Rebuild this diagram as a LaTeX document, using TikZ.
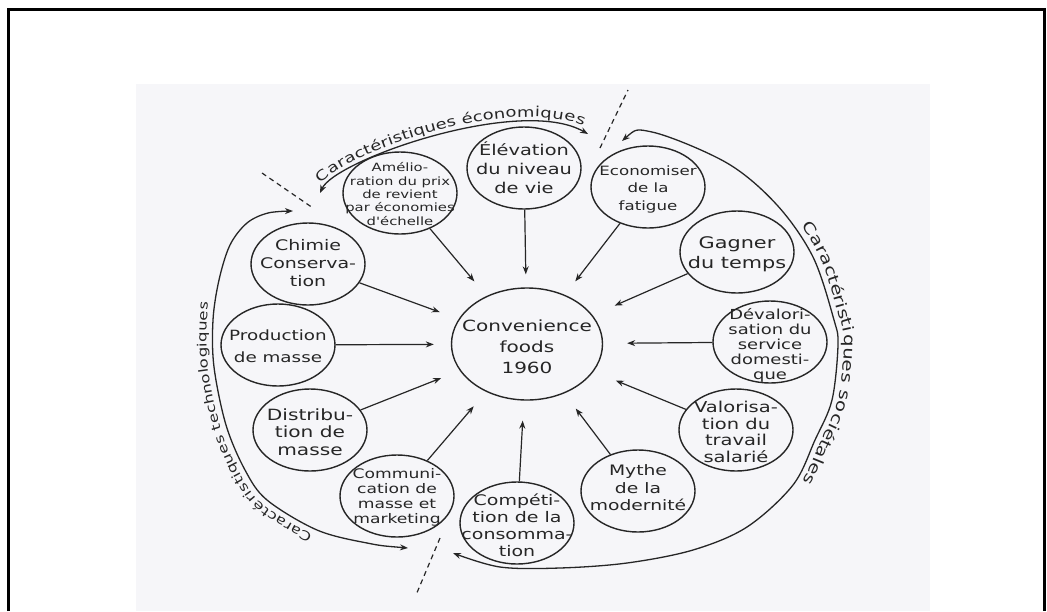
\documentclass[tikz,border=0pt]{standalone}
\usepackage{fontspec}
\newfontfamily\hand[FakeStretch=1.3]{DejaVu Sans}
\usetikzlibrary{shapes.geometric,arrows.meta,decorations.text}
\definecolor{ink}{HTML}{262626}
\definecolor{scan}{HTML}{F6F6F9}
\begin{document}
\begin{tikzpicture}[x=1pt,y=-1pt,
  bub/.style={draw=ink, line width=1.4pt, ellipse, minimum width=114pt, minimum height=82pt, inner sep=0pt},
  txt/.style={align=center, inner sep=0pt, text=ink},
  arr/.style={draw=ink, line width=1.2pt, -{Stealth[length=8pt,width=6pt]}, shorten >=19pt},
  side/.style={draw=ink, line width=1.3pt, {Stealth[length=8pt,width=6pt]}-{Stealth[length=8pt,width=6pt]}},
  cut/.style={draw=ink, line width=1.2pt, dash pattern=on 5pt off 4pt},
  fr/.style={draw=black, line width=3pt}]
\useasboundingbox (0,0) rectangle (1047,611);
% frame and scan background
\fill[scan] (136,84) rectangle (930,611);
\draw[fr] (8,611) -- (8,9) -- (1044,9) -- (1044,611);

% ellipses
\node[bub, minimum width=151pt, minimum height=112pt] (center) at (527,344) {};
\node[bub] (amel)   at (400,193) {};
\node[bub] (elev)   at (524,168) {};
\node[bub] (econ)   at (648,187) {};
\node[bub] (gagn)   at (737,252) {};
\node[bub] (deval)  at (770,342) {};
\node[bub] (valor)  at (736,430) {};
\node[bub] (mythe)  at (638,491) {};
\node[bub] (compet) at (517,523) {};
\node[bub] (commu)  at (397,496) {};
\node[bub] (distr)  at (310,430) {};
\node[bub] (prod)   at (278,345) {};
\node[bub] (chimie) at (308,264) {};

% texts
\node[txt, font=\hand\fontsize{15.4}{21}\selectfont] (center-t) at (527,347) {Convenience\\foods\\1960};
\node[txt, font=\hand\fontsize{11.4}{13.3}\selectfont] (amel-t) at (400,194) {Amélio-\\ration du prix\\de revient\\par économies\\d'échelle};
\node[txt, font=\hand\fontsize{14.9}{19}\selectfont] (elev-t) at (524,168) {Élévation\\du niveau\\de vie};
\node[txt, font=\hand\fontsize{12.8}{17.5}\selectfont] (econ-t) at (648,189) {Economiser\\de la\\fatigue};
\node[txt, font=\hand\fontsize{16}{20}\selectfont] (gagn-t) at (737,254) {Gagner\\du temps};
\node[txt, font=\hand\fontsize{13.8}{15}\selectfont] (deval-t) at (770,345) {Dévalori-\\sation du\\service\\domesti-\\que};
\node[txt, font=\hand\fontsize{15}{16.5}\selectfont] (valor-t) at (736,432) {Valorisa-\\tion du\\travail\\salarié};
\node[txt, font=\hand\fontsize{14.4}{17.5}\selectfont] (mythe-t) at (638,488) {Mythe\\de la\\modernité};
\node[txt, font=\hand\fontsize{14.6}{17}\selectfont] (compet-t) at (517,525) {Compéti-\\tion de la\\consomma-\\tion};
\node[txt, font=\hand\fontsize{13.2}{15}\selectfont] (commu-t) at (397,497) {Communi-\\cation de\\masse et\\marketing};
\node[txt, font=\hand\fontsize{15.5}{17.5}\selectfont] (distr-t) at (310,432) {Distribu-\\tion de\\masse};
\node[txt, font=\hand\fontsize{14.1}{22}\selectfont] (prod-t) at (278,346) {Production\\de masse};
\node[txt, font=\hand\fontsize{14.6}{18}\selectfont] (chimie-t) at (308,263) {Chimie\\Conserva-\\tion};

% arrows to the centre
\draw[arr] (amel) -- (center);
\draw[arr, shorten >=13pt] (elev) -- (center);
\draw[arr, shorten >=17pt] (econ) -- (center);
\draw[arr, shorten >=24pt] (gagn) -- (center);
\draw[arr, shorten >=24pt] (deval) -- (center);
\draw[arr, shorten >=24pt] (valor) -- (center);
\draw[arr] (mythe) -- (center);
\draw[arr, shorten >=20pt] (compet) -- (center);
\draw[arr] (commu) -- (center);
\draw[arr, shorten >=20pt] (distr) -- (center);
\draw[arr, shorten >=17pt] (prod) -- (center);
\draw[arr, shorten >=20pt] (chimie) -- (center);

% dashed cuts
\coordinate (cutA1) at (262,173); \coordinate (cutA2) at (313,208);
\coordinate (cutB1) at (600,148); \coordinate (cutB2) at (628,90);
\coordinate (cutC1) at (440,538); \coordinate (cutC2) at (416,595);
\draw[cut] (cutA1) -- (cutA2);
\draw[cut] (cutB1) -- (cutB2);
\draw[cut] (cutC1) -- (cutC2);

% top arc: economiques
\coordinate (ecoL) at (320,193); \coordinate (ecoR) at (588,134);
\draw[side] (ecoL) .. controls (335,160) and (520,95) .. (ecoR);
\path[decorate, decoration={text along path, text align=center, raise=5pt,
  text={|\hand\fontsize{13.8}{14}\selectfont\color{ink}|Caractéristiques économiques}}]
  (ecoL) .. controls (335,160) and (520,95) .. (ecoR);

% right arc: societales
\draw[side] plot[smooth, tension=0.55] coordinates {(622,141) (652,132) (727,163) (777,205) (813,257) (834,320) (838,345) (832,400) (815,440) (793,485) (747,527) (693,550) (627,563) (560,568) (500,567) (453,553)};
\path[decorate, decoration={text along path, text align={left indent=210pt}, raise=6pt,
  text={|\hand\fontsize{15.2}{16}\selectfont\color{ink}|Caractéristiques sociétales}}]
  plot[smooth, tension=0.55] coordinates {(622,141) (652,132) (727,163) (777,205) (813,257) (834,320) (838,345) (832,400) (815,440) (793,485) (747,527) (693,550) (627,563) (560,568) (500,567) (453,553)};

% left arc: technologiques
\draw[side] plot[smooth, tension=0.55] coordinates {(408,548) (367,543) (317,530) (267,500) (245,470) (226,425) (214,367) (213,320) (219,280) (230,245) (247,223) (268,213) (293,211)};
\path[decorate, decoration={text along path, text align={left indent=95pt}, raise=6pt,
  text={|\hand\fontsize{12.7}{13}\selectfont\color{ink}|Caractéristiques technologiques}}]
  plot[smooth, tension=0.55] coordinates {(408,548) (367,543) (317,530) (267,500) (245,470) (226,425) (214,367) (213,320) (219,280) (230,245) (247,223) (268,213) (293,211)};
\end{tikzpicture}
\end{document}
